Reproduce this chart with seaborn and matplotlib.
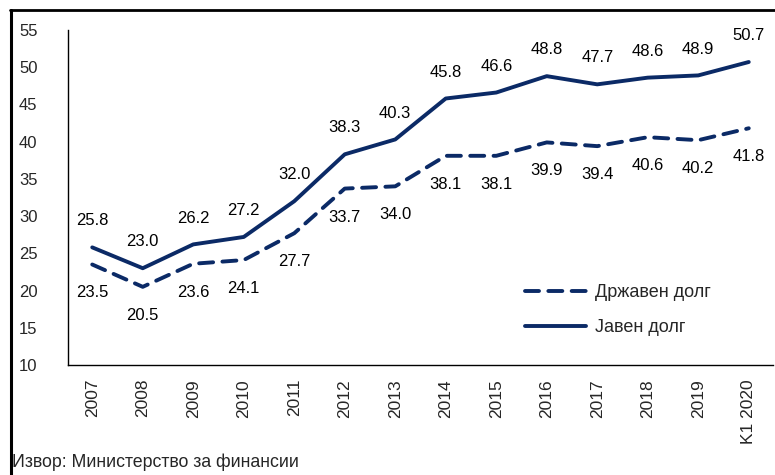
import matplotlib
matplotlib.use("Agg")
import matplotlib.pyplot as plt
import seaborn as sns
import pandas as pd
from matplotlib.lines import Line2D

categories = ["2007", "2008", "2009", "2010", "2011", "2012", "2013",
              "2014", "2015", "2016", "2017", "2018", "2019", "K1 2020"]
javen_dolg = [25.8, 23.0, 26.2, 27.2, 32.0, 38.3, 40.3, 45.8, 46.6, 48.8, 47.7, 48.6, 48.9, 50.7]
drzhaven_dolg = [23.5, 20.5, 23.6, 24.1, 27.7, 33.7, 34.0, 38.1, 38.1, 39.9, 39.4, 40.6, 40.2, 41.8]
y_ticks = [10, 15, 20, 25, 30, 35, 40, 45, 50, 55]
label_javen = "Јавен долг"
label_drzhaven = "Државен долг"
source_text = "Извор: Министерство за финансии"

sns.set_style("white")
plt.rcParams['font.family'] = ['Liberation Sans', 'DejaVu Sans']

color = "#0b2a66"
df = pd.DataFrame({"pos": range(len(categories)),
                   "javen": javen_dolg, "drzhaven": drzhaven_dolg})

fig = plt.figure(figsize=(7.75, 4.75), dpi=100)
ax = fig.add_axes([68/775, 1-365/475, 705/775, 335/475])

sns.lineplot(data=df, x="pos", y="drzhaven", ax=ax, color=color, linewidth=2.8,
             label=label_drzhaven)
sns.lineplot(data=df, x="pos", y="javen", ax=ax, color=color, linewidth=2.8,
             label=label_javen)
dline = ax.lines[0]
dline.set_dashes((3.6, 2.4))
dline.set_dash_capstyle('round')
ax.lines[1].set_solid_capstyle('round')

for i, v in enumerate(javen_dolg):
    ax.annotate(f"{v:.1f}", (i, v), xytext=(0, 19), textcoords="offset points",
                ha="center", va="center", fontsize=12, color="black")
for i, v in enumerate(drzhaven_dolg):
    ax.annotate(f"{v:.1f}", (i, v), xytext=(0, -20.5), textcoords="offset points",
                ha="center", va="center", fontsize=12, color="black")

ax.set_xlim(-0.48, len(categories) - 0.52)
ax.set_ylim(10, 55)
ax.set_yticks(y_ticks)
ax.set_yticklabels([str(t) for t in y_ticks], fontsize=12)
ax.set_xticks(range(len(categories)))
ax.set_xticklabels(categories, rotation=90, fontsize=12.5)
ax.tick_params(axis='y', length=0, pad=22)
ax.tick_params(axis='x', length=0, pad=10)
ax.set_xlabel("")
ax.set_ylabel("")

for s in ["top", "right"]:
    ax.spines[s].set_visible(False)
for s in ["left", "bottom"]:
    ax.spines[s].set_visible(True)
    ax.spines[s].set_color("black")
    ax.spines[s].set_linewidth(1.0)

h, l = ax.get_legend_handles_labels()
leg = ax.legend(h, l, loc="upper left", bbox_to_anchor=(0.625, 0.29), frameon=False,
                fontsize=13, handlelength=3.4, labelspacing=1.0, handletextpad=0.5)

fig.text(12/775, 1-462/475, source_text, fontsize=12.8, ha="left", va="center")

fig.add_artist(Line2D([11/775, 11/775], [0, 1-10/475], transform=fig.transFigure,
                      color="black", linewidth=2.2))
fig.add_artist(Line2D([10/775, 1], [1-10/475, 1-10/475], transform=fig.transFigure,
                      color="black", linewidth=2.0))

fig.savefig("out.png", dpi=100)
